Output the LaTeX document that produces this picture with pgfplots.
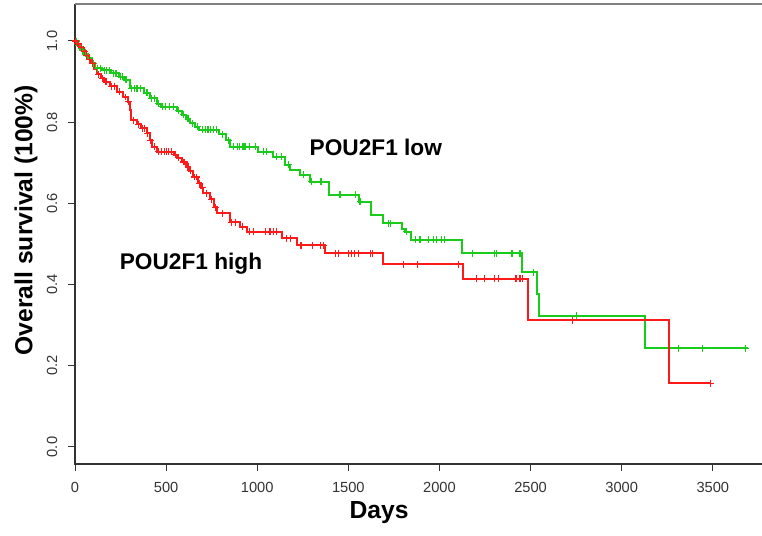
\documentclass[border=0pt]{standalone}
\usepackage{fontspec}
\setmainfont{Liberation Sans}
\usepackage{pgfplots}
\usepackage{pgfplotstable}
\pgfplotsset{compat=1.18}
\definecolor{kmgreen}{HTML}{19CC19}
\definecolor{kmred}{HTML}{FF1A1A}
\definecolor{axisgray}{HTML}{333333}

% survival steps: day, survival after the event
\pgfplotstableread{
day surv
0 1.000
15 0.990
30 0.978
50 0.968
70 0.958
90 0.945
110 0.933
150 0.928
200 0.920
240 0.912
270 0.904
300 0.884
380 0.872
410 0.859
450 0.845
470 0.838
560 0.828
585 0.818
610 0.808
630 0.797
660 0.789
680 0.781
790 0.770
830 0.756
850 0.740
1006 0.727
1089 0.715
1150 0.695
1180 0.682
1235 0.670
1290 0.653
1395 0.621
1560 0.604
1625 0.571
1692 0.551
1795 0.538
1810 0.530
1845 0.510
2122 0.477
2455 0.430
2535 0.378
2545 0.323
3128 0.243
3695 0.243
}\lowcurve

\pgfplotstableread{
day surv
8 1.000
20 0.990
40 0.978
60 0.968
80 0.958
100 0.945
125 0.933
140 0.933
160 0.928
175 0.928
190 0.928
210 0.920
225 0.920
250 0.912
260 0.912
280 0.904
310 0.884
325 0.884
335 0.884
345 0.884
360 0.884
390 0.872
400 0.872
420 0.859
435 0.859
460 0.845
480 0.838
495 0.838
520 0.838
540 0.838
570 0.828
595 0.818
620 0.808
645 0.797
670 0.789
700 0.781
715 0.781
730 0.781
745 0.781
760 0.781
775 0.781
810 0.770
840 0.756
870 0.740
890 0.740
905 0.740
922 0.740
933 0.740
960 0.740
988 0.740
1034 0.727
1052 0.727
1107 0.715
1134 0.715
1171 0.695
1253 0.670
1299 0.653
1345 0.653
1354 0.653
1454 0.621
1537 0.621
1564 0.604
1720 0.551
1733 0.551
1821 0.530
1866 0.510
1893 0.510
1939 0.510
1967 0.510
1985 0.510
2012 0.510
2027 0.510
2183 0.477
2302 0.477
2314 0.477
2398 0.477
2442 0.477
2515 0.430
2750 0.323
3310 0.243
3443 0.243
3677 0.243
}\lowcens

\pgfplotstableread{
day surv
0 1.000
10 0.993
25 0.985
45 0.975
60 0.965
75 0.955
90 0.945
105 0.932
120 0.918
140 0.908
160 0.900
190 0.888
230 0.875
265 0.862
290 0.850
300 0.830
310 0.805
340 0.795
360 0.785
395 0.773
410 0.755
425 0.740
450 0.727
545 0.720
560 0.712
585 0.702
610 0.690
625 0.680
645 0.665
675 0.650
690 0.638
705 0.625
740 0.610
765 0.591
780 0.576
850 0.554
905 0.542
945 0.530
1134 0.514
1217 0.497
1372 0.477
1692 0.450
2131 0.414
2488 0.312
3260 0.157
3485 0.157
}\highcurve

\pgfplotstableread{
day surv
5 1.000
15 0.993
20 0.993
35 0.985
50 0.975
65 0.965
80 0.955
95 0.945
130 0.918
150 0.908
170 0.900
200 0.888
215 0.888
245 0.875
275 0.862
295 0.850
320 0.805
350 0.795
370 0.785
380 0.785
400 0.773
415 0.755
435 0.740
460 0.727
475 0.727
490 0.727
500 0.727
515 0.727
530 0.727
550 0.720
570 0.712
595 0.702
600 0.702
620 0.690
635 0.680
655 0.665
665 0.665
685 0.650
700 0.638
720 0.625
750 0.610
770 0.591
810 0.576
860 0.554
880 0.554
920 0.542
960 0.530
979 0.530
1043 0.530
1070 0.530
1088 0.530
1107 0.530
1160 0.514
1180 0.514
1240 0.497
1304 0.497
1345 0.497
1363 0.497
1427 0.477
1445 0.477
1500 0.477
1519 0.477
1533 0.477
1555 0.477
1619 0.477
1634 0.477
1802 0.450
1879 0.450
2104 0.450
2205 0.414
2247 0.414
2302 0.414
2324 0.414
2415 0.414
2424 0.414
2442 0.414
2457 0.414
2732 0.312
3485 0.157
}\highcens

\begin{document}
\begin{tikzpicture}
\useasboundingbox (0,0) rectangle (571.5pt,401.25pt);
\begin{axis}[
  at={(56.25pt,53.25pt)}, anchor=south west,
  scale only axis,
  width=515.25pt, height=345pt,
  xmin=0, xmax=3770,
  ymin=-0.0419, ymax=1.0911,
  axis line style={draw=none},
  tick align=outside,
  tick pos=left,
  major tick length=5.25pt,
  tick style={axisgray, line width=0.75pt},
  xtick={0,500,...,3500},
  ytick={0,0.2,0.4,0.6,0.8,1.0},
  /pgf/number format/assume math mode=true,
  xticklabel style={font=\fontsize{11}{13}\selectfont, text=axisgray, yshift=-5pt},
  yticklabel style={font=\fontsize{11}{13}\selectfont, text=axisgray, rotate=90, anchor=south, yshift=4.5pt},
  yticklabel={\pgfmathprintnumber[fixed, fixed zerofill, precision=1]{\tick}},
  xticklabel={\pgfmathprintnumber[fixed, precision=0, 1000 sep={}]{\tick}},
  scaled x ticks=false,
  clip=false,
]
\draw[axisgray, line width=1pt] (rel axis cs:0,1) -- (rel axis cs:0,0) -- (rel axis cs:1,0);
\draw[gray, line width=1.2pt] (rel axis cs:0,1) -- (rel axis cs:1,1);

\addplot[const plot, kmgreen, line width=1.5pt] table {\lowcurve};
\addplot[only marks, mark=+, mark size=2.6pt, kmgreen, mark options={line width=0.8pt}] table {\lowcens};
\addplot[const plot, kmred, line width=1.5pt] table {\highcurve};
\addplot[only marks, mark=+, mark size=2.6pt, kmred, mark options={line width=0.8pt}] table {\highcens};

\node[anchor=base west, font=\bfseries\fontsize{17}{20}\selectfont] at (axis cs:1262,0.719) {POU2F1 low};
\node[anchor=base west, font=\bfseries\fontsize{17}{20}\selectfont] at (axis cs:220,0.438) {POU2F1 high};
\node[rotate=90, anchor=center, font=\bfseries\fontsize{18.5}{22}\selectfont] at (rel axis cs:-0.0713,0.530) {Overall survival (100\%)};
\node[anchor=center, font=\bfseries\fontsize{18.5}{22}\selectfont] at (rel axis cs:0.4425,-0.1065) {Days};
\end{axis}
\end{tikzpicture}
\end{document}
